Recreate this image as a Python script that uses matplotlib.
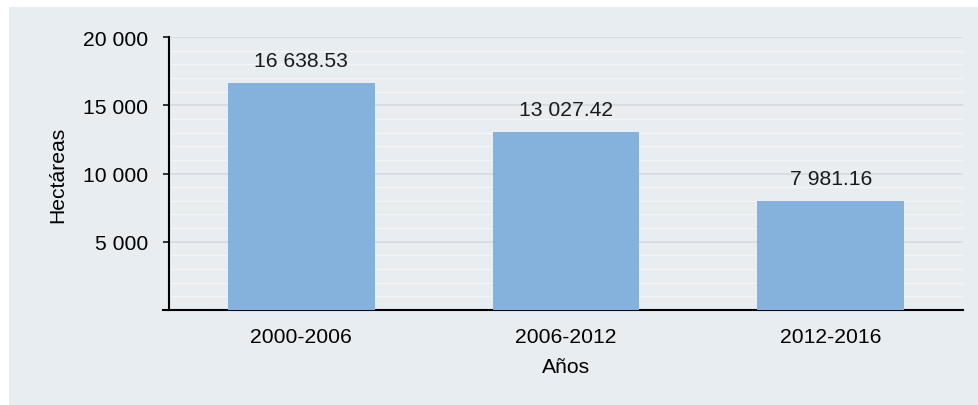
import matplotlib.pyplot as plt
from matplotlib.patches import Rectangle
from matplotlib.ticker import MultipleLocator, FuncFormatter

plt.rcParams['font.family'] = ['Liberation Sans', 'DejaVu Sans']

# datos
periodos = ["2000-2006", "2006-2012", "2012-2016"]
hectareas = [16638.53, 13027.42, 7981.16]
y_ticks = [5000, 10000, 15000, 20000]

FS = 15.2


def miles(v, pos=None):
    return f"{v:,.0f}".replace(",", " ")


fig = plt.figure(figsize=(9.79, 4.06), dpi=100)
fig.patch.set_facecolor("white")

# fondo del panel
fig.patches.append(Rectangle((9 / 979, 0), 1, 1 - 8 / 406, transform=fig.transFigure,
                             facecolor="#e8edf1", edgecolor="none", zorder=-1))

ax = fig.add_axes([169 / 979, 1 - 311 / 406, (963 - 169) / 979, (311 - 38) / 406])
ax.set_facecolor("#e8edf1")

x = range(len(periodos))
ax.bar(x, hectareas, width=0.555, color="#85b2dc", zorder=3)

for xi, v in zip(x, hectareas):
    etiqueta = f"{v:,.2f}".replace(",", " ")
    ax.annotate(etiqueta, (xi, v), xytext=(0, 16), textcoords="offset points",
                ha="center", va="center", fontsize=FS, color="#1a1a1a")

ax.set_xlim(-0.5, 2.5)
ax.set_ylim(0, 20000)
ax.set_xticks(list(x))
ax.set_xticklabels(periodos, fontsize=FS)
ax.set_yticks([0] + y_ticks)
ax.yaxis.set_major_formatter(FuncFormatter(lambda v, p: "" if v == 0 else miles(v)))
ax.yaxis.set_minor_locator(MultipleLocator(1000))
ax.tick_params(axis="y", which="major", length=4.3, width=1.1, labelsize=FS, pad=10.8)
ax.tick_params(axis="y", which="minor", length=0)
ax.tick_params(axis="x", length=0, pad=12.5)

ax.grid(axis="y", which="major", color="#d6dade", linewidth=1.2, zorder=0)
ax.grid(axis="y", which="minor", color="#f3f5f7", linewidth=1.0, zorder=0)

for s in ["top", "right"]:
    ax.spines[s].set_visible(False)
for s in ["left", "bottom"]:
    ax.spines[s].set_linewidth(1.5)
    ax.spines[s].set_color("black")
ax.spines["bottom"].set_bounds(-0.5 - 6 / 265, 2.5)

ax.set_xlabel("Años", fontsize=FS, labelpad=7.5)
ax.set_ylabel("Hectáreas", fontsize=FS)
ax.yaxis.set_label_coords(-102 / 794, 0.5)

fig.savefig("out.png", dpi=100)
